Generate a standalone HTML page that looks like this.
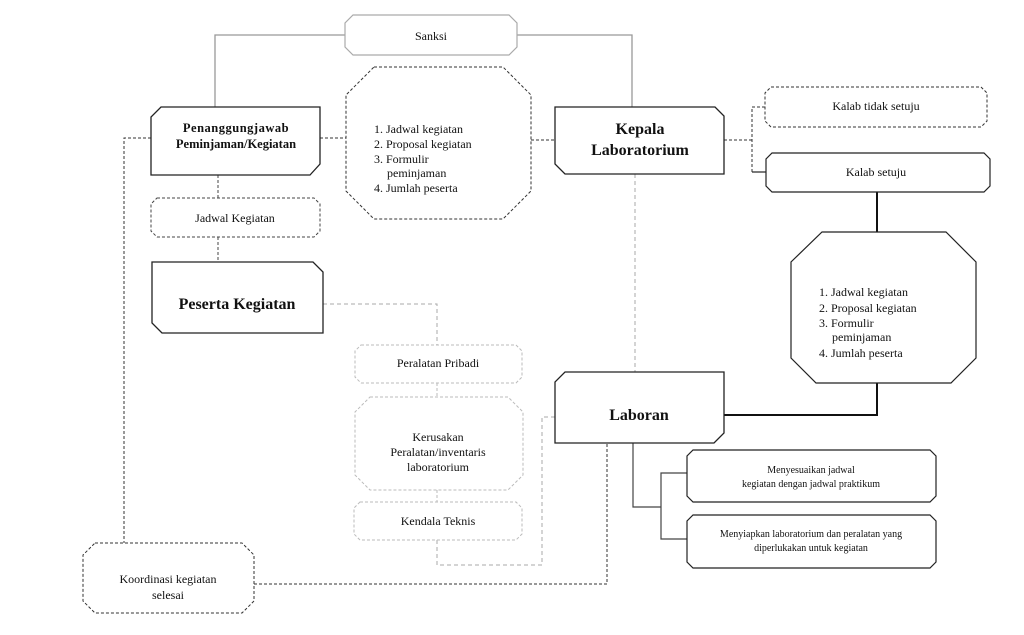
<!DOCTYPE html>
<html><head><meta charset="utf-8"><style>
html,body{margin:0;padding:0;background:#fff;}
svg{display:block;}
text{font-family:"Liberation Serif",serif;fill:#111;}
</style></head><body>
<svg width="1024" height="635" viewBox="0 0 1024 635" xmlns="http://www.w3.org/2000/svg">
<g fill="none">
<!-- connectors -->
<polyline points="215,107 215,35 345,35" stroke="#999" stroke-width="1.3"/>
<polyline points="517,35 632,35 632,107" stroke="#999" stroke-width="1.3"/>
<line x1="320" y1="138" x2="346" y2="138" stroke="#333" stroke-dasharray="3,2"/>
<line x1="531" y1="140" x2="555" y2="140" stroke="#333" stroke-dasharray="3,2"/>
<polyline points="724,140 752,140" stroke="#333" stroke-dasharray="3,2"/>
<polyline points="765,107 752,107 752,172" stroke="#333" stroke-dasharray="3,2"/>
<line x1="752" y1="172" x2="766" y2="172" stroke="#222" stroke-width="1.2"/>
<line x1="877" y1="192" x2="877" y2="232" stroke="#111" stroke-width="2"/>
<polyline points="877,383 877,415 724,415" stroke="#111" stroke-width="2"/>
<line x1="635" y1="174" x2="635" y2="372" stroke="#aaa" stroke-dasharray="4,3"/>
<polyline points="633,443 633,507 661,507" stroke="#444" stroke-width="1.2"/>
<polyline points="687,473 661,473 661,539 687,539" stroke="#444" stroke-width="1.2"/>
<line x1="218" y1="175" x2="218" y2="198" stroke="#444" stroke-dasharray="3,2"/>
<line x1="218" y1="237" x2="218" y2="262" stroke="#444" stroke-dasharray="3,2"/>
<polyline points="323,304 437,304 437,345" stroke="#aaa" stroke-dasharray="4,3"/>
<line x1="437" y1="383" x2="437" y2="397" stroke="#bbb" stroke-dasharray="3,2"/>
<line x1="437" y1="490" x2="437" y2="502" stroke="#bbb" stroke-dasharray="3,2"/>
<polyline points="437,540 437,565 542,565 542,417 555,417" stroke="#aaa" stroke-dasharray="4,3"/>
<polyline points="151,138 124,138 124,543" stroke="#333" stroke-dasharray="3,2"/>
<polyline points="254,584 607,584 607,443" stroke="#333" stroke-dasharray="3,2"/>
<!-- shapes -->
<polygon points="353,15 509,15 517,23 517,47 509,55 353,55 345,47 345,23" fill="#fff" stroke="#aaa" stroke-width="1.2"/>
<polygon points="374,67 503,67 531,95 531,191 503,219 374,219 346,191 346,95" fill="#fff" stroke="#333" stroke-dasharray="3,2"/>
<polygon points="161,107 320,107 320,164 310,175 151,175 151,117" fill="#fff" stroke="#222" stroke-width="1.3"/>
<polygon points="555,107 715,107 724,116 724,174 565,174 555,164" fill="#fff" stroke="#222" stroke-width="1.3"/>
<polygon points="771,87 981,87 987,93 987,121 981,127 771,127 765,121 765,93" fill="#fff" stroke="#333" stroke-dasharray="3,2"/>
<polygon points="772,153 984,153 990,159 990,186 984,192 772,192 766,186 766,159" fill="#fff" stroke="#222" stroke-width="1.2"/>
<polygon points="822,232 946,232 976,262 976,358 951,383 816,383 791,358 791,262" fill="#fff" stroke="#222" stroke-width="1.2"/>
<polygon points="157,198 314,198 320,204 320,231 314,237 157,237 151,231 151,204" fill="#fff" stroke="#444" stroke-dasharray="3,2"/>
<polygon points="152,262 313,262 323,272 323,333 162,333 152,323" fill="#fff" stroke="#222" stroke-width="1.3"/>
<polygon points="361,345 516,345 522,351 522,377 516,383 361,383 355,377 355,351" fill="#fff" stroke="#bbb" stroke-dasharray="3,2"/>
<polygon points="370,397 508,397 523,412 523,475 508,490 370,490 355,475 355,412" fill="#fff" stroke="#bbb" stroke-dasharray="3,2"/>
<polygon points="360,502 516,502 522,508 522,534 516,540 360,540 354,534 354,508" fill="#fff" stroke="#bbb" stroke-dasharray="3,2"/>
<polygon points="565,372 724,372 724,433 714,443 555,443 555,382" fill="#fff" stroke="#222" stroke-width="1.3"/>
<polygon points="693,450 930,450 936,456 936,496 930,502 693,502 687,496 687,456" fill="#fff" stroke="#222" stroke-width="1.2"/>
<polygon points="693,515 930,515 936,521 936,562 930,568 693,568 687,562 687,521" fill="#fff" stroke="#222" stroke-width="1.2"/>
<polygon points="95,543 242,543 254,555 254,601 242,613 95,613 83,601 83,555" fill="#fff" stroke="#333" stroke-dasharray="3,2"/>
</g>
<!-- text -->
<text x="431" y="40" font-size="12" text-anchor="middle">Sanksi</text>
<g font-size="12">
<text x="374" y="133">1. Jadwal kegiatan</text>
<text x="374" y="148">2. Proposal kegiatan</text>
<text x="374" y="163">3. Formulir</text>
<text x="387" y="177">peminjaman</text>
<text x="374" y="192">4. Jumlah peserta</text>
</g>
<text x="236" y="132" font-size="12.5" font-weight="bold" text-anchor="middle" letter-spacing="0.5">Penanggungjawab</text>
<text x="236" y="148" font-size="12.5" font-weight="bold" text-anchor="middle">Peminjaman/Kegiatan</text>
<text x="640" y="134" font-size="16" font-weight="bold" text-anchor="middle">Kepala</text>
<text x="640" y="155" font-size="16" font-weight="bold" text-anchor="middle">Laboratorium</text>
<text x="876" y="110" font-size="12" text-anchor="middle">Kalab tidak setuju</text>
<text x="876" y="176" font-size="12" text-anchor="middle">Kalab setuju</text>
<g font-size="12">
<text x="819" y="296">1. Jadwal kegiatan</text>
<text x="819" y="312">2. Proposal kegiatan</text>
<text x="819" y="327">3. Formulir</text>
<text x="832" y="341">peminjaman</text>
<text x="819" y="357">4. Jumlah peserta</text>
</g>
<text x="235" y="222" font-size="12" text-anchor="middle">Jadwal Kegiatan</text>
<text x="237" y="309" font-size="16" font-weight="bold" text-anchor="middle">Peserta Kegiatan</text>
<text x="438" y="367" font-size="12" text-anchor="middle">Peralatan Pribadi</text>
<text x="438" y="441" font-size="12" text-anchor="middle">Kerusakan</text>
<text x="438" y="456" font-size="12" text-anchor="middle">Peralatan/inventaris</text>
<text x="438" y="471" font-size="12" text-anchor="middle">laboratorium</text>
<text x="438" y="525" font-size="12" text-anchor="middle">Kendala Teknis</text>
<text x="639" y="420" font-size="16" font-weight="bold" text-anchor="middle">Laboran</text>
<text x="811" y="473" font-size="10" text-anchor="middle">Menyesuaikan jadwal</text>
<text x="811" y="487" font-size="10" text-anchor="middle">kegiatan dengan jadwal praktikum</text>
<text x="811" y="537" font-size="10" text-anchor="middle">Menyiapkan laboratorium dan peralatan yang</text>
<text x="811" y="551" font-size="10" text-anchor="middle">diperlukakan untuk kegiatan</text>
<text x="168" y="583" font-size="12" text-anchor="middle">Koordinasi kegiatan</text>
<text x="168" y="599" font-size="12" text-anchor="middle">selesai</text>
</svg>
</body></html>
